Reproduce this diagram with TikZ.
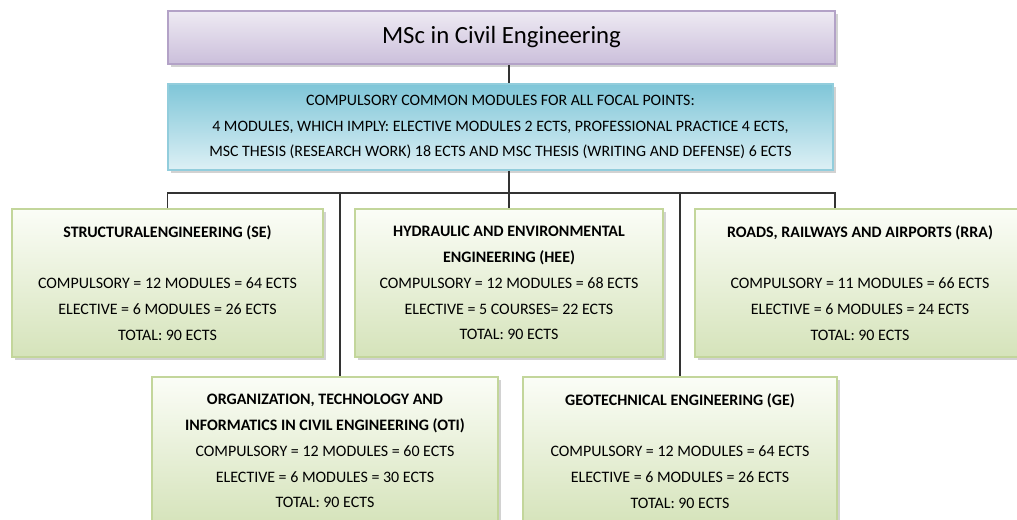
\documentclass[tikz,border=0pt]{standalone}
\usepackage{fontspec}
\setmainfont{Carlito}
\usetikzlibrary{shadows}
\definecolor{titleline}{HTML}{B3A2C7}
\definecolor{titletop}{HTML}{EEEAF3}
\definecolor{titlebot}{HTML}{CBBFDB}
\definecolor{commonline}{HTML}{92CDDC}
\definecolor{commontop}{HTML}{7FC6D8}
\definecolor{commonbot}{HTML}{DDF0F5}
\definecolor{focusline}{HTML}{C3D69B}
\definecolor{focustop}{HTML}{FBFDF7}
\definecolor{focusbot}{HTML}{D5E3BA}

\begin{document}
\begin{tikzpicture}[
    x=0.025cm, y=-0.025cm,
    font=\fontsize{11.35}{18.4}\selectfont,
    box/.style={draw, line width=1.2pt, align=center, inner sep=0pt, drop shadow={shadow xshift=2pt, shadow yshift=-2pt, fill=black!35}},
    mainbox/.style={box, draw=titleline, top color=titletop, bottom color=titlebot, minimum width=16.675cm, minimum height=1.325cm, font=\fontsize{17.6}{20}\selectfont},
    commonbox/.style={box, draw=commonline, top color=commontop, bottom color=commonbot, minimum width=16.625cm, minimum height=2.15cm, font=\fontsize{11.3}{18.4}\selectfont},
    focus/.style={box, draw=focusline, top color=focustop, bottom color=focusbot, minimum height=3.7cm},
    link/.style={line width=0.9pt, draw=black!80}
]
\clip (0,0) rectangle (1017,519);
\useasboundingbox (0,0) rectangle (1017,519);
\node[mainbox] (title) at (501.5,37.5) {MSc in Civil Engineering};
\node[commonbox] (common) at (500.5,127) {COMPULSORY COMMON MODULES FOR ALL FOCAL POINTS:\\ 4 MODULES, WHICH IMPLY: ELECTIVE MODULES 2 ECTS, PROFESSIONAL PRACTICE 4 ECTS,\\ MSC THESIS (RESEARCH WORK) 18 ECTS AND MSC THESIS (WRITING AND DEFENSE) 6 ECTS};
\node[focus, minimum width=7.775cm] (se) at (167.5,283) {\textbf{STRUCTURALENGINEERING (SE)}\\ \mbox{}\\ COMPULSORY = 12 MODULES = 64 ECTS\\ ELECTIVE = 6 MODULES = 26 ECTS\\ TOTAL: 90 ECTS};
\node[focus, minimum width=7.7cm] (hee) at (509,283) {\textbf{HYDRAULIC AND ENVIRONMENTAL}\\ \textbf{ENGINEERING (HEE)}\\ COMPULSORY = 12 MODULES = 68 ECTS\\ ELECTIVE = 5 COURSES= 22 ECTS\\ TOTAL: 90 ECTS};
\node[focus, minimum width=8.25cm] (rra) at (860,283) {\textbf{ROADS, RAILWAYS AND AIRPORTS (RRA)}\\ \mbox{}\\ COMPULSORY = 11 MODULES = 66 ECTS\\ ELECTIVE = 6 MODULES = 24 ECTS\\ TOTAL: 90 ECTS};
\node[focus, minimum width=8.65cm] (oti) at (325,451) {\textbf{ORGANIZATION, TECHNOLOGY AND}\\ \textbf{INFORMATICS IN CIVIL ENGINEERING (OTI)}\\ COMPULSORY = 12 MODULES = 60 ECTS\\ ELECTIVE = 6 MODULES = 30 ECTS\\ TOTAL: 90 ECTS};
\node[focus, minimum width=7.85cm] (ge) at (680,451) {\textbf{GEOTECHNICAL ENGINEERING (GE)}\\ \mbox{}\\ COMPULSORY = 12 MODULES = 64 ECTS\\ ELECTIVE = 6 MODULES = 26 ECTS\\ TOTAL: 90 ECTS};
\coordinate (busR) at (835,193);
\coordinate (otitap) at (340,193);
\coordinate (getap) at (680,193);
\draw[link] (title.south -| hee.north) -- (common.north -| hee.north);
\draw[link] (common.south -| hee.north) -- (hee.north);
\draw[link] (se.north) |- (busR) -- (busR |- rra.north);
\draw[link] (otitap) -- (otitap |- oti.north);
\draw[link] (getap) -- (ge.north);
\end{tikzpicture}
\end{document}
